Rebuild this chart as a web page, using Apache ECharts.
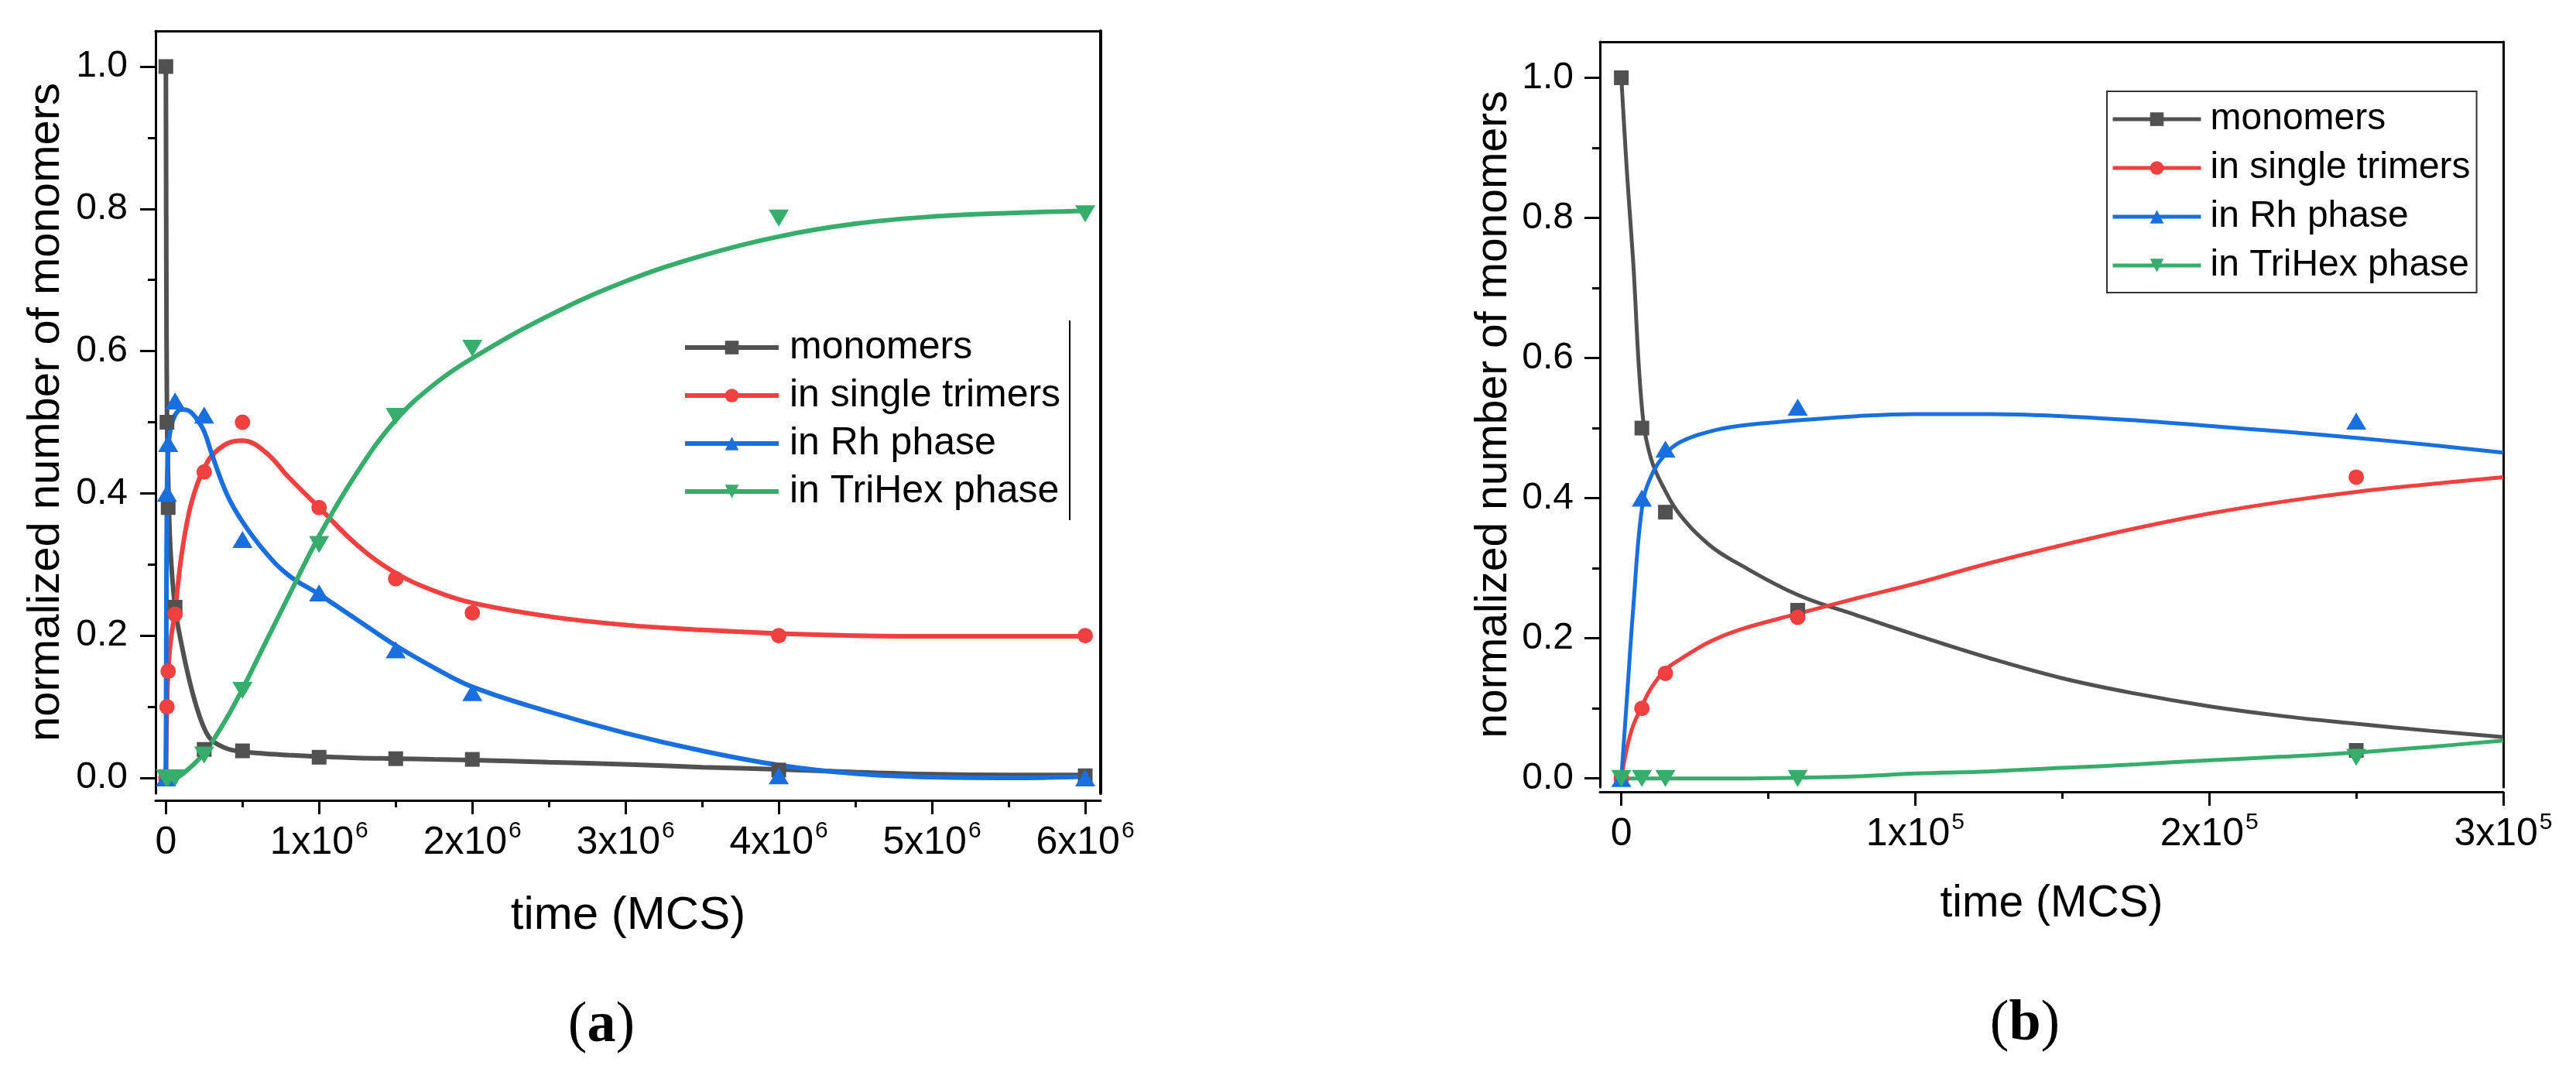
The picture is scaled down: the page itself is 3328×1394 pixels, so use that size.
<!DOCTYPE html>
<html><head><meta charset="utf-8">
<script src="https://cdn.jsdelivr.net/npm/echarts@6/dist/echarts.min.js"></script>
<style>html,body{margin:0;padding:0;background:#fff}#c{width:3328px;height:1394px}</style>
</head><body><div id="c"></div>
<script>
// ---------- data (a) ----------
const seriesNames = ['monomers', 'in single trimers', 'in Rh phase', 'in TriHex phase'];
const timeA   = [0, 7000, 15000, 60000, 250000, 500000, 1000000, 1500000, 2000000, 4000000, 6000000];
const monoA   = [1.0, 0.50, 0.38, 0.24, 0.04, 0.038, 0.029, 0.027, 0.026, 0.011, 0.003];
const trimA   = [0, 0.10, 0.15, 0.23, 0.43, 0.50, 0.38, 0.28, 0.232, 0.20, 0.20];
const rhA     = [0, 0.40, 0.47, 0.53, 0.51, 0.335, 0.26, 0.18, 0.12, 0.003, 0.0];
const triHexA = [0, 0, 0, 0, 0.032, 0.123, 0.328, 0.508, 0.604, 0.787, 0.793];
// fitted curves (a)
const fitTimeA   = [0, 3000, 7000, 15000, 30000, 60000, 100000, 150000, 200000, 250000, 300000, 400000, 500000, 650000, 800000, 1000000, 1250000, 1500000, 1750000, 2000000, 2500000, 3000000, 3500000, 4000000, 4500000, 5000000, 5500000, 6000000];
const fitMonoA   = [1.0, 0.72, 0.52, 0.42, 0.32, 0.24, 0.19, 0.14, 0.10, 0.07, 0.053, 0.041, 0.037, 0.034, 0.032, 0.030, 0.028, 0.027, 0.026, 0.025, 0.022, 0.019, 0.015, 0.012, 0.008, 0.005, 0.004, 0.004];
const fitTrimA   = [0, 0.05, 0.10, 0.15, 0.19, 0.235, 0.31, 0.372, 0.41, 0.435, 0.453, 0.47, 0.474, 0.458, 0.423, 0.38, 0.327, 0.288, 0.263, 0.246, 0.227, 0.215, 0.208, 0.203, 0.200, 0.199, 0.199, 0.199];
const fitRhA     = [0, 0.20, 0.40, 0.46, 0.49, 0.51, 0.518, 0.516, 0.505, 0.487, 0.455, 0.398, 0.36, 0.317, 0.285, 0.258, 0.222, 0.186, 0.155, 0.128, 0.093, 0.063, 0.038, 0.018, 0.006, 0.001, 0.0, 0.002];
const fitTriHexA = [0, 0, 0, 0, 0, 0, 0.004, 0.013, 0.023, 0.035, 0.05, 0.085, 0.125, 0.19, 0.255, 0.34, 0.43, 0.503, 0.553, 0.59, 0.65, 0.698, 0.734, 0.761, 0.779, 0.789, 0.794, 0.797];

// ---------- data (b) ----------
const timeB   = [0, 7000, 15000, 60000, 250000];
const monoB   = [1.0, 0.50, 0.38, 0.24, 0.04];
const trimB   = [0, 0.10, 0.15, 0.23, 0.43];
const rhB     = [0, 0.40, 0.47, 0.53, 0.51];
const triHexB = [0, 0, 0, 0, 0.03];
const fitTimeB   = [0, 2000, 4000, 7000, 10000, 15000, 20000, 30000, 40000, 60000, 80000, 100000, 125000, 150000, 175000, 200000, 225000, 250000, 275000, 300000];
const fitMonoB   = [1.0, 0.86, 0.74, 0.53, 0.458, 0.41, 0.376, 0.333, 0.306, 0.262, 0.233, 0.205, 0.172, 0.143, 0.121, 0.103, 0.089, 0.078, 0.068, 0.059];
const fitTrimB   = [0, 0.045, 0.075, 0.103, 0.128, 0.155, 0.17, 0.195, 0.212, 0.235, 0.257, 0.278, 0.307, 0.333, 0.357, 0.378, 0.395, 0.409, 0.42, 0.43];
const fitRhB     = [0, 0.12, 0.24, 0.385, 0.43, 0.463, 0.48, 0.495, 0.503, 0.511, 0.517, 0.52, 0.52, 0.517, 0.511, 0.503, 0.495, 0.486, 0.476, 0.465];
const fitTriHexB = [0, 0, 0, 0, 0, 0, 0, 0, 0, 0.001, 0.003, 0.007, 0.01, 0.015, 0.02, 0.026, 0.031, 0.037, 0.045, 0.054];

// ---------- ticks ----------
const yMajorTicks = [0, 0.2, 0.4, 0.6, 0.8, 1.0];
const yMinorTicks = [0.1, 0.3, 0.5, 0.7, 0.9];
const xMajorTicksA = [0, 1e6, 2e6, 3e6, 4e6, 5e6, 6e6];
const xMinorTicksA = [0.5e6, 1.5e6, 2.5e6, 3.5e6, 4.5e6, 5.5e6];
const xExpA = 6;
const xMajorTicksB = [0, 1e5, 2e5, 3e5];
const xMinorTicksB = [0.5e5, 1.5e5, 2.5e5];
const xExpB = 5;

const FONT = 'Liberation Sans';
const colors = ['#515151', '#F14040', '#1A6FDF', '#37AD6B'];
const symbols = ['rect', 'circle', 'triangle', 'triangle'];
const symRot = [0, 0, 0, 180];
const symSize = [19, 20, [26, 22], [26, 22]];

function xLabelFmt(exp) {
  return function (v) {
    if (Math.abs(v) < 1e-9) return '{n|0}';
    return '{n|' + Math.round(v / Math.pow(10, exp)) + 'x10}{s|' + exp + '}';
  };
}
const xRich = {
  n: {fontSize: 50, lineHeight: 60, fontFamily: FONT, color: '#000'},
  s: {fontSize: 30, lineHeight: 30, verticalAlign: 'top', fontFamily: FONT, color: '#000', padding: [0, 0, 0, 2]}
};

function makeAxes(g, c) {
  const xs = [
    {type: 'value', gridIndex: g, min: c.xmin, max: c.xmax, position: 'bottom', offset: c.xOffset,
     axisLine: {show: true, onZero: false, lineStyle: {color: '#000', width: 3}},
     axisTick: {show: true, inside: false, length: 18, customValues: c.xMajor, lineStyle: {color: '#000', width: 3}},
     axisLabel: {show: true, customValues: c.xMajor, margin: 25, formatter: xLabelFmt(c.exp), rich: xRich, color: '#000'},
     splitLine: {show: false}, minorTick: {show: false},
     name: 'time (MCS)', nameLocation: 'middle', nameGap: c.xNameGap, nameMoveOverlap: false,
     nameTextStyle: {fontSize: c.xNameSize, fontFamily: FONT, color: '#000'}},
    {type: 'value', gridIndex: g, min: c.xmin, max: c.xmax, position: 'bottom', offset: c.xOffset,
     axisLine: {show: false, onZero: false},
     axisTick: {show: true, inside: false, length: 9, customValues: c.xMinor, lineStyle: {color: '#000', width: 3}},
     axisLabel: {show: false}, splitLine: {show: false}},
    {type: 'value', gridIndex: g, min: c.xmin, max: c.xmax, position: 'top',
     axisLine: {show: true, onZero: false, lineStyle: {color: '#000', width: 3}},
     axisTick: {show: false}, axisLabel: {show: false}, splitLine: {show: false}}
  ];
  const ys = [
    {type: 'value', gridIndex: g, min: c.ymin, max: c.ymax, position: 'left',
     axisLine: {show: true, onZero: false, lineStyle: {color: '#000', width: 3}},
     axisTick: {show: true, inside: false, length: 20, customValues: yMajorTicks, lineStyle: {color: '#000', width: 3}},
     axisLabel: {show: true, customValues: yMajorTicks, margin: c.yLabelMargin, fontSize: 48, fontFamily: FONT, color: '#000',
                 formatter: v => v.toFixed(1)},
     splitLine: {show: false}, minorTick: {show: false},
     name: 'normalized number of monomers', nameLocation: 'middle', nameGap: c.yNameGap, nameMoveOverlap: false,
     nameTextStyle: {fontSize: c.yNameSize, fontFamily: FONT, color: '#000'}},
    {type: 'value', gridIndex: g, min: c.ymin, max: c.ymax, position: 'left',
     axisLine: {show: false, onZero: false},
     axisTick: {show: true, inside: false, length: 10, customValues: yMinorTicks, lineStyle: {color: '#000', width: 3}},
     axisLabel: {show: false}, splitLine: {show: false}},
    {type: 'value', gridIndex: g, min: c.ymin, max: c.ymax, position: 'right',
     axisLine: {show: true, onZero: false, lineStyle: {color: '#000', width: c.rightWidth}},
     axisTick: {show: false}, axisLabel: {show: false}, splitLine: {show: false}}
  ];
  return {xs, ys};
}

const axA = makeAxes(0, {xmin: -67200, xmax: 6101000, ymin: -0.0218, ymax: 1.050, xOffset: 9,
  xMajor: xMajorTicksA, xMinor: xMinorTicksA, exp: xExpA, xNameGap: 119, xNameSize: 60,
  yLabelMargin: 36, yNameGap: 112, yNameSize: 58, rightWidth: 4});
const axB = makeAxes(1, {xmin: -7270, xmax: 300000, ymin: -0.0125, ymax: 1.0513, xOffset: 6,
  xMajor: xMajorTicksB, xMinor: xMinorTicksB, exp: xExpB, xNameGap: 117, xNameSize: 57,
  yLabelMargin: 34, yNameGap: 108, yNameSize: 57, rightWidth: 3});

function makeSeries(axisIdx, fitT, fits, t, pts, lw) {
  const out = [];
  for (let k = 0; k < 4; k++) {
    out.push({
      type: 'line', name: seriesNames[k], xAxisIndex: axisIdx, yAxisIndex: axisIdx,
      data: fitT.map((x, i) => [x, fits[k][i]]),
      smooth: 0.4, showSymbol: false, symbol: symbols[k], symbolRotate: symRot[k],
      symbolSize: symSize[k], lineStyle: {color: colors[k], width: lw}, itemStyle: {color: colors[k]},
      emphasis: {disabled: true}, silent: true, z: 2
    });
  }
  for (let k = 0; k < 4; k++) {
    out.push({
      type: 'scatter', name: seriesNames[k], xAxisIndex: axisIdx, yAxisIndex: axisIdx,
      data: t.map((x, i) => [x, pts[k][i]]),
      symbol: symbols[k], symbolRotate: symRot[k], symbolSize: symSize[k],
      itemStyle: {color: colors[k], opacity: 1}, emphasis: {disabled: true}, silent: true, z: 3
    });
  }
  return out;
}

const series = [].concat(
  makeSeries(0, fitTimeA, [fitMonoA, fitTrimA, fitRhA, fitTriHexA], timeA, [monoA, trimA, rhA, triHexA], 6),
  makeSeries(3, fitTimeB, [fitMonoB, fitTrimB, fitRhB, fitTriHexB], timeB, [monoB, trimB, rhB, triHexB], 5)
);

const legendTextA = {fontSize: 50, lineHeight: 50, fontFamily: FONT, color: '#000', padding: [0, 0, 0, 9]};
const legendTextB = {fontSize: 48, lineHeight: 50, fontFamily: FONT, color: '#000', padding: [0, 0, 0, 7]};

const option = {
  animation: false,
  backgroundColor: '#fff',
  textStyle: {fontFamily: FONT},
  grid: [
    {left: 201, top: 40, width: 1221, height: 985, outerBoundsMode: 'none', containLabel: false},
    {left: 2067, top: 54, width: 1167, height: 963, outerBoundsMode: 'none', containLabel: false}
  ],
  xAxis: axA.xs.concat(axB.xs),
  yAxis: axA.ys.concat(axB.ys),
  legend: [
    {orient: 'vertical', left: 882, top: 424, itemWidth: 121, itemHeight: 22, itemGap: 12, padding: 0,
     selectedMode: false, textStyle: legendTextA, lineStyle: {width: 6}, data: seriesNames},
    {orient: 'vertical', left: 2722, top: 118, itemWidth: 114, itemHeight: 22, itemGap: 13, padding: [11, 8, 10, 5],
     borderColor: '#333', borderWidth: 2, selectedMode: false, textStyle: legendTextB, lineStyle: {width: 5}, data: seriesNames}
  ],
  graphic: [
    {type: 'line', shape: {x1: 1382, y1: 414, x2: 1382, y2: 672}, style: {stroke: '#000', lineWidth: 2}, silent: true},
    {type: 'text', x: 777, y: 1326, silent: true,
     style: {text: '({b|a})', align: 'center', verticalAlign: 'middle', fontSize: 74, fontFamily: 'Liberation Serif', fill: '#000',
             rich: {b: {fontSize: 74, fontWeight: 'bold', fontFamily: 'Liberation Serif', fill: '#000', color: '#000'}}}},
    {type: 'text', x: 2616, y: 1324, silent: true,
     style: {text: '({b|b})', align: 'center', verticalAlign: 'middle', fontSize: 74, fontFamily: 'Liberation Serif', fill: '#000',
             rich: {b: {fontSize: 74, fontWeight: 'bold', fontFamily: 'Liberation Serif', fill: '#000', color: '#000'}}}}
  ],
  series: series
};

const chart = echarts.init(document.getElementById('c'), null, {renderer: 'canvas'});
chart.setOption(option);
</script>
</body></html>
